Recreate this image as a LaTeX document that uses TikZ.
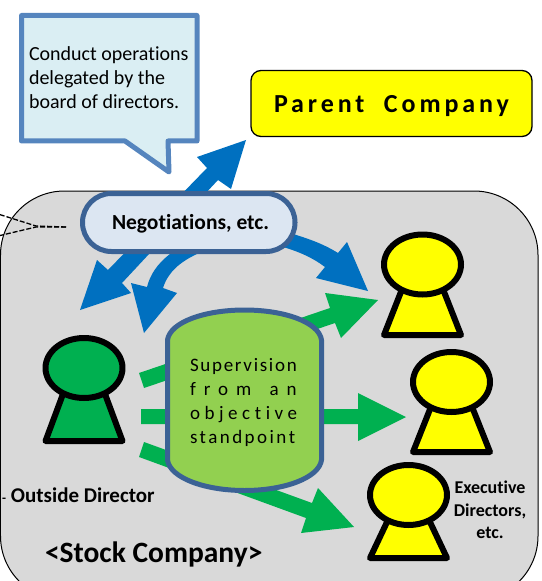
\documentclass[tikz,border=0pt]{standalone}
\usepackage{fontspec}
\setmainfont[RawFeature={-liga}]{Carlito}
\definecolor{boxgray}{HTML}{D9D9D9}
\definecolor{callline}{HTML}{5585BE}
\definecolor{callfill}{HTML}{DAEEF3}
\definecolor{pillline}{HTML}{3B6295}
\definecolor{pillfill}{HTML}{DCE6F2}
\definecolor{arrowblue}{HTML}{0070C0}
\definecolor{arrowgreen}{HTML}{00B050}
\definecolor{supgreen}{HTML}{92D050}
\definecolor{brightyellow}{RGB}{255,255,0}
\newcommand{\fsz}[1]{\fontsize{#1bp}{#1bp}\selectfont}
\newcommand{\person}[4]{% cx, cy, bottom centre line, colour
  \draw[personline,fill=#4] (#1-21,#2+26) -- (#1-38.5,#3) -- (#1+38.5,#3) -- (#1+21,#2+26) -- cycle;
  \draw[personline,fill=#4] (#1,#2) ellipse [x radius=38.5,y radius=30];
}
\tikzset{
  personline/.style={draw=black,line width=6bp,line join=round},
  blueblock/.style={fill=arrowblue,draw=none},
  greenblock/.style={fill=arrowgreen,draw=none},
  lbl/.style={inner sep=0pt,outer sep=0pt,anchor=base west},
  lblc/.style={inner sep=0pt,outer sep=0pt,anchor=base},
}
\begin{document}
\begin{tikzpicture}[x=1bp,y=-1bp]
\useasboundingbox (0,0) rectangle (542,581);
\clip (0,0) rectangle (542,581);
% stock company panel
\draw[fill=boxgray,draw=black,line width=1bp,rounded corners=64bp] (0.5,191) rectangle (538,600);
% dashed leaders
\coordinate (dashhub) at (66,227);
\coordinate (dashup) at (-2,214);
\coordinate (dashdown) at (-2,236);
\draw[line width=1.3bp,dash pattern=on 5bp off 2bp] (dashhub) -- (36,226) -- (dashup);
\draw[line width=1.3bp,dash pattern=on 5bp off 2bp] (dashhub) -- (36,227) -- (dashdown);
% callout
\draw[draw=callline,fill=callfill,line width=5bp,line join=round]
  (21.5,15.5) -- (197,15.5) -- (197,141) -- (168,141) -- (169,172) -- (125,141) -- (21.5,141) -- cycle;
\node[lbl] (callA) at (29,61) {\fsz{20}Conduct operations};
\node[lbl] (callB) at (29,85) {\fsz{20}delegated by the};
\node[lbl] (callC) at (29,109) {\fsz{20}board of directors.};
% parent company
\node[draw=black,fill=brightyellow,line width=1.3bp,rounded corners=10bp,minimum width=281bp,minimum height=66bp,inner sep=0pt,outer sep=0pt,anchor=north west] (parent) at (251,70.5) {};
\node[lbl] (parenttxt) at (274,113) {\fsz{26}\addfontfeature{LetterSpace=15}\bfseries Parent\ \ Company};
% blue block arrows
\fill[blueblock] (246,140) -- (197,157) -- (207,168) -- (108,270) -- (97,260) -- (80,310) -- (131,293) -- (122,283) -- (218,180) -- (231,189) -- cycle;
\fill[blueblock] (163,288) .. controls (168,272) and (180,262) .. (197,254) -- (283,247)
  .. controls (300,252) and (313,258) .. (325,267) -- (316,278) -- (368,291) -- (347,242) -- (338,253)
  .. controls (322,243) and (306,238) .. (290,233) -- (170,254)
  .. controls (157,264) and (150,275) .. (147,287) -- (131,283) -- (144,333) -- (177,293) -- cycle;
% green block arrows
\fill[greenblock] (139,373) -- (330,308) -- (325,293) -- (378,300) -- (341,338) -- (335,323) -- (144,388) -- cycle;
\fill[greenblock] (141,409) -- (358,409) -- (358,393) -- (406,417) -- (358,441) -- (358,424) -- (141,424) -- cycle;
\fill[greenblock] (144,442) -- (312,503) -- (318,488) -- (354,527) -- (301,533) -- (306,518) -- (139,457) -- cycle;
% supervision drum
\draw[draw=pillline,fill=supgreen,line width=5bp,line join=round]
  (167.5,340) .. controls (170,322) and (205,310) .. (244.5,310)
  .. controls (284,310) and (319,322) .. (321.5,340) -- (321.5,460)
  .. controls (319,478) and (284,490.5) .. (244.5,490.5)
  .. controls (205,490.5) and (170,478) .. (167.5,460) -- cycle;
\node[lbl] (supA) at (190,371) {\fsz{19}\addfontfeature{LetterSpace=9}Supervision};
\node[lbl] (supB) at (190,395) {\fsz{19}\addfontfeature{LetterSpace=42}from\hspace{6bp} an};
\node[lbl] (supC) at (190,419) {\fsz{19}\addfontfeature{LetterSpace=24}objective};
\node[lbl] (supD) at (190,443) {\fsz{19}\addfontfeature{LetterSpace=13}standpoint};
% negotiations
\node[draw=pillline,fill=pillfill,line width=5bp,rounded corners=28.9bp,minimum width=212.5bp,minimum height=58bp,inner sep=0pt,outer sep=0pt,anchor=north west] (nego) at (82.5,193.5) {};
\node[lbl] (negotxt) at (112,229) {\fsz{21.5}\bfseries Negotiations, etc.};
% people
\person{84}{368}{441}{arrowgreen}
\person{422.5}{264.5}{335}{brightyellow}
\person{451.5}{382}{452}{brightyellow}
\person{408.5}{495}{558}{brightyellow}
% labels
\node[lbl] (outside) at (2,502) {\fsz{21}\bfseries{\fsz{13}-}\hspace{5bp}Outside Director};
\node[lbl] (stock) at (45,562) {\fsz{29.5}\bfseries <Stock Company>};
\node[lblc] (execA) at (490,493) {\fsz{18}\bfseries Executive};
\node[lblc] (execB) at (490,516) {\fsz{18}\bfseries Directors,};
\node[lblc] (execC) at (490,538) {\fsz{18}\bfseries etc.};
\end{tikzpicture}
\end{document}
